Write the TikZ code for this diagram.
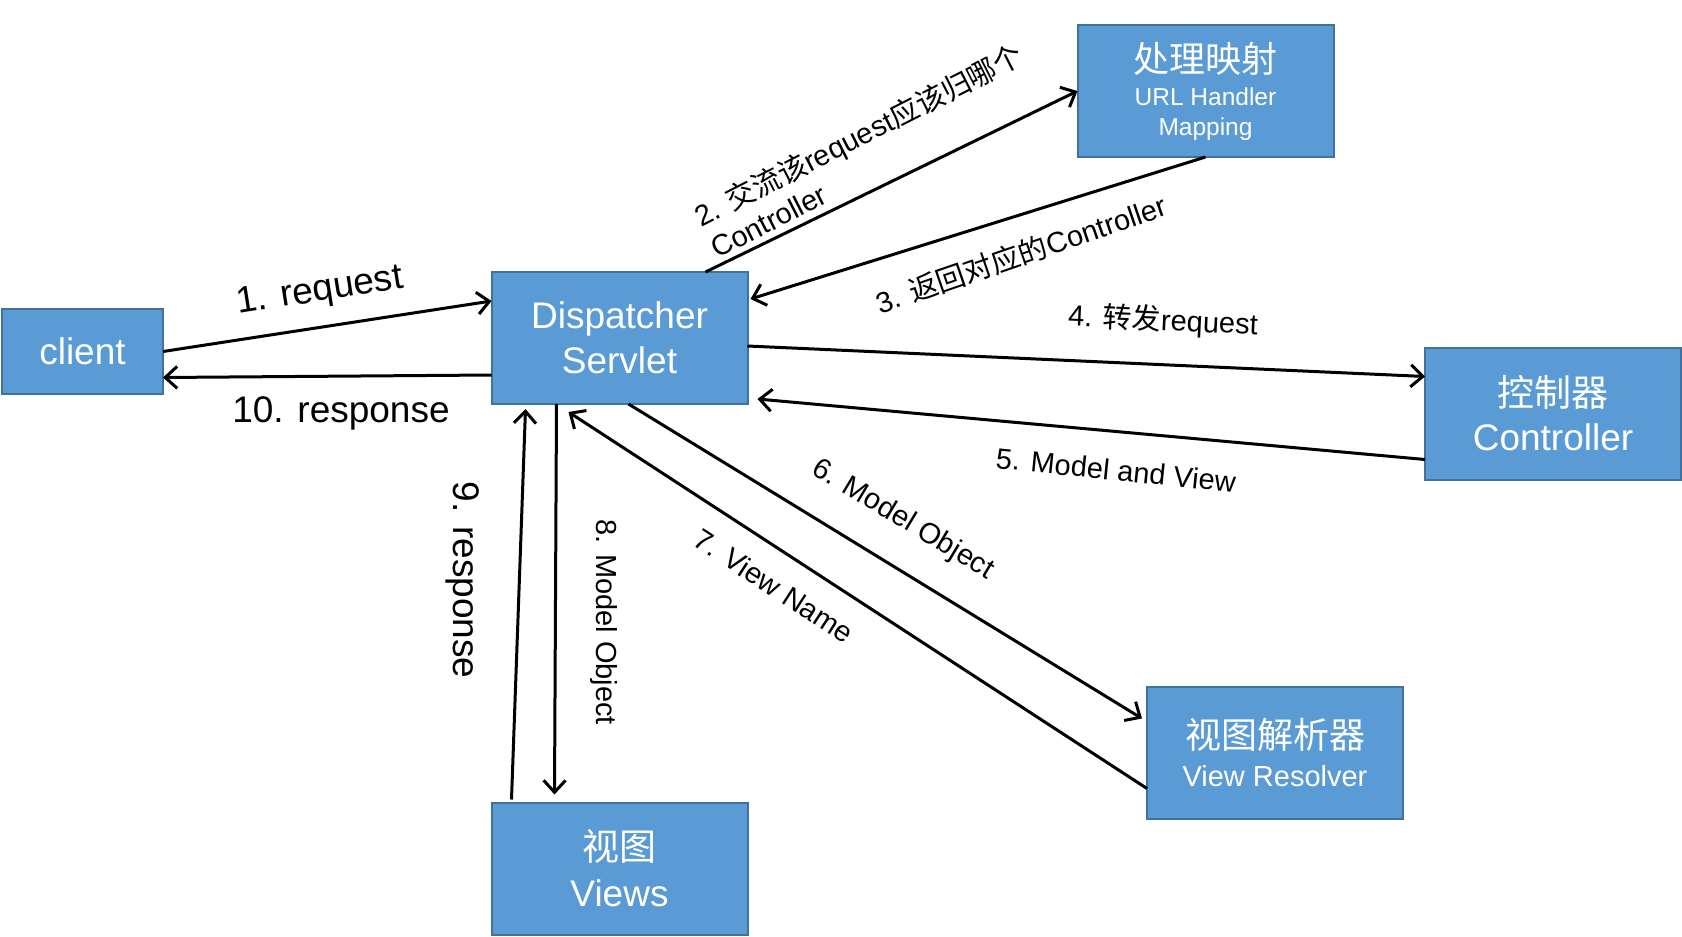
\documentclass[tikz,border=0pt]{standalone}
\usepackage{fontspec}
\setmainfont{Liberation Sans}
\newfontfamily\cjk{Noto Sans CJK SC}
\usetikzlibrary{arrows.meta}
\definecolor{boxblue}{HTML}{5B9BD5}
\definecolor{boxline}{HTML}{41719C}
\newcommand\fsz[2]{\fontsize{#1}{#2}\selectfont}
\begin{document}
\begin{tikzpicture}[x=1pt,y=-1pt,
  box/.style={draw=boxline,fill=boxblue,line width=2pt,text=white,align=center,
    outer sep=0pt,inner sep=0pt,minimum width=256pt,minimum height=132pt},
  arr/.style={line width=3pt,-{Straight Barb[length=12pt,width=22pt]}},
  lbl/.style={font=\fsz{29}{35},inner sep=0pt},
  biglbl/.style={font=\fsz{37}{44},inner sep=0pt}]
\useasboundingbox (0,0) rectangle (1682,937);

\node[box,minimum width=161pt,minimum height=85pt,font=\fsz{37}{44}] (client) at (82.5,351.5) {client};
\node[box,font=\fsz{37}{45}] (disp) at (619.5,338) {Dispatcher\\Servlet};
\node[box,font=\fsz{24.5}{30}] (map) at (1205.5,91) {{\cjk\fsz{36}{40}处理映射}\\[3pt]URL Handler\\Mapping};
\node[box,font=\fsz{37}{44}] (ctrl) at (1553,413.5) {{\cjk 控制器}\\Controller};
\node[box,font=\fsz{29}{35}] (resv) at (1275,752.5) {{\cjk\fsz{36}{40}视图解析器}\\[3pt]View Resolver};
\node[box,font=\fsz{37}{46}] (views) at (619.5,868.5) {{\cjk 视图}\\Views};

\draw[arr] (client.east) -- ([yshift=37pt]disp.west);
\draw[arr] ([yshift=-37pt]disp.west) -- ([yshift=-26pt]client.east);
\draw[arr] ([xshift=86pt]disp.north) -- (map.west);
\draw[arr] (map.south) -- ([xshift=3pt,yshift=39pt]disp.east);
\draw[arr] ([yshift=-8pt]disp.east) -- ([yshift=37pt]ctrl.west);
\draw[arr] ([yshift=-46pt]ctrl.west) -- ([xshift=10pt,yshift=-61pt]disp.east);
\draw[arr] ([xshift=9pt]disp.south) -- ([xshift=-5pt,yshift=34pt]resv.west);
\draw[arr] ([yshift=-36pt]resv.west) -- ([xshift=-51pt,yshift=-8pt]disp.south);
\draw[arr] ([xshift=-63pt]disp.south) -- ([xshift=-65pt,yshift=8pt]views.north);
\draw[arr] ([xshift=-108pt,yshift=3pt]views.north) -- ([xshift=-94pt,yshift=-5pt]disp.south);

\node[biglbl,rotate=9] (l1) at (320,292) {1. request};
\node[biglbl] (l10) at (341,413) {10. response};
\node[lbl,rotate=27,align=left] (l2) at (866,150) {2. {\cjk 交流该}request{\cjk 应该归哪个}\\Controller};
\node[lbl,rotate=19] (l3) at (1021,254) {3. {\cjk 返回对应的}Controller};
\node[lbl,rotate=-2.6] (l4) at (1163,321) {4. {\cjk 转发}request};
\node[lbl,rotate=-5.8] (l5) at (1116,470) {5. Model and View};
\node[lbl,rotate=-31] (l6) at (903,520) {6. Model Object};
\node[lbl,rotate=-33] (l7) at (774,586) {7. View Name};
\node[lbl,rotate=-90] (l8) at (604,622) {8. Model Object};
\node[biglbl,rotate=-90] (l9) at (463,580) {9. response};
\end{tikzpicture}
\end{document}
